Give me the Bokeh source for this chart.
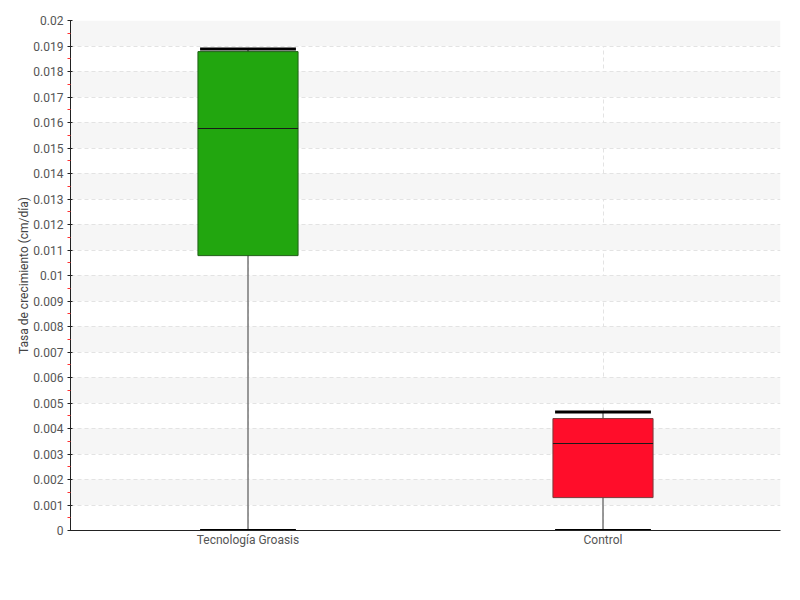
from bokeh.plotting import figure
from bokeh.models import ColumnDataSource, FactorRange, Range1d, FixedTicker
from bokeh.embed import file_html
from bokeh.resources import INLINE

categories = ["Tecnología Groasis", "Control"]
whisker_low = [0.0, 0.0]
q1 = [0.01078, 0.00129]
median = [0.01576, 0.00341]
q3 = [0.01878, 0.00439]
whisker_high = [0.01888, 0.00465]
fill_colors = ["#22a60f", "#ff0d2a"]
line_colors = ["#1f5f16", "#7a3a3a"]

y_ticks = [i / 1000 for i in range(0, 21)]
y_tick_labels = ["0"] + ["%g" % (i / 1000) for i in range(1, 21)]
y_minor = [(i + 0.5) / 1000 for i in range(0, 20)]

FONT = "Roboto"

src = ColumnDataSource(dict(cat=categories, lo=whisker_low, q1=q1, med=median,
                            q3=q3, hi=whisker_high, fill=fill_colors, line=line_colors))

p = figure(x_range=FactorRange(*categories, range_padding=0), y_range=Range1d(0, 0.02),
           width=790, height=590, frame_width=710, frame_height=510,
           min_border_left=70, min_border_top=20, min_border_right=10, min_border_bottom=10,
           output_backend="svg", toolbar_location=None)
p.outline_line_color = None
p.background_fill_color = "white"

# grid
p.ygrid.ticker = FixedTicker(ticks=y_ticks)
p.ygrid.grid_line_color = "#e3e3e3"
p.ygrid.grid_line_dash = "4 3"
p.ygrid.band_fill_color = "#f6f6f6"
p.ygrid.band_fill_alpha = 1
p.xgrid.grid_line_color = "#e3e3e3"
p.xgrid.grid_line_dash = "4 3"

# y axis
ya = p.yaxis[0]
ya.ticker = FixedTicker(ticks=y_ticks, minor_ticks=y_minor)
ya.major_label_overrides = {t: l for t, l in zip(y_ticks, y_tick_labels)}
ya.axis_label = "Tasa de crecimiento (cm/día)"
ya.axis_label_text_font = FONT
ya.axis_label_text_font_style = "normal"
ya.axis_label_text_font_size = "12px"
ya.axis_label_text_color = "#444444"
ya.axis_label_standoff = -1
ya.major_label_text_font = FONT
ya.major_label_text_font_size = "12px"
ya.major_label_text_color = "#555555"
ya.major_label_standoff = 4
ya.axis_line_color = "#222222"
ya.major_tick_line_color = "#222222"
ya.major_tick_out = 3
ya.major_tick_in = 2
ya.minor_tick_line_color = "#ff3333"
ya.minor_tick_out = 3
ya.minor_tick_in = 0

# x axis
xa = p.xaxis[0]
xa.major_tick_line_color = None
xa.minor_tick_line_color = None
xa.axis_line_color = "#222222"
xa.major_label_text_font = FONT
xa.major_label_text_font_size = "12px"
xa.major_label_text_color = "#555555"
xa.major_label_standoff = -4

# whiskers
p.segment(x0="cat", y0="lo", x1="cat", y1="hi", source=src, line_color="#777777", line_width=1.5)
# caps
p.rect(x="cat", y="hi", width=0.27, height=3, height_units="screen", source=src,
       fill_color="black", line_color=None)
p.rect(x="cat", y="lo", width=0.27, height=3, height_units="screen", source=src,
       fill_color="black", line_color=None)
# boxes
p.vbar(x="cat", bottom="q1", top="q3", width=0.282, source=src,
       fill_color="fill", line_color="line", line_width=1)
# medians
p.rect(x="cat", y="med", width=0.282, height=1, height_units="screen", source=src,
       fill_color="#1a1a1a", line_color=None)

open("out.html", "w").write(file_html(p, INLINE))
